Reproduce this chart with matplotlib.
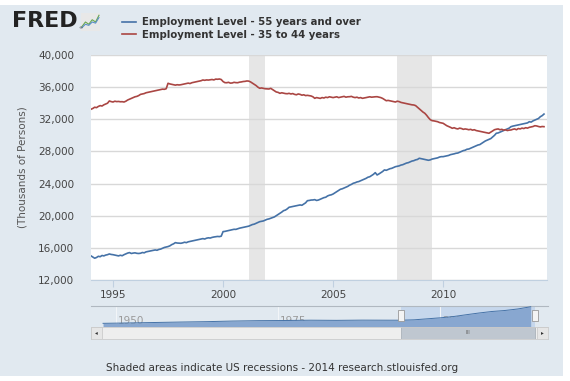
import numpy as np
import matplotlib.pyplot as plt
from matplotlib.patches import Rectangle
from matplotlib.ticker import FuncFormatter

# monthly values, thousands of persons, Jan 1994 .. Aug 2014
start_year = 1994
emp_55_over = [
    15000, 14850, 14710, 14800, 14950, 14900, 15050, 15000, 15100, 15150, 15240, 15180,  # 1994
    15150, 15100, 15050, 15000, 15080, 15020, 15150, 15250, 15350, 15410, 15300, 15350,  # 1995
    15380, 15320, 15300, 15330, 15420, 15380, 15500, 15550, 15600, 15650, 15700, 15740,  # 1996
    15700, 15800, 15850, 15950, 16050, 16100, 16160, 16250, 16400, 16500, 16650, 16600,  # 1997
    16580, 16570, 16620, 16700, 16650, 16750, 16800, 16850, 16900, 16950, 17000, 17050,  # 1998
    17100, 17150, 17100, 17200, 17250, 17220, 17300, 17350, 17380, 17420, 17400, 17450,  # 1999
    18020, 18050, 18100, 18150, 18200, 18250, 18310, 18300, 18380, 18450, 18500, 18550,  # 2000
    18600, 18640, 18700, 18800, 18900, 18950, 19050, 19150, 19260, 19300, 19350, 19450,  # 2001
    19550, 19600, 19680, 19750, 19850, 20000, 20150, 20300, 20450, 20630, 20700, 20850,  # 2002
    21050, 21100, 21150, 21200, 21250, 21300, 21340, 21300, 21450, 21600, 21870, 21900,  # 2003
    21950, 21960, 22000, 21900, 21950, 22050, 22150, 22250, 22300, 22460, 22550, 22600,  # 2004
    22700, 22850, 23000, 23150, 23290, 23350, 23450, 23550, 23650, 23800, 23900, 24040,  # 2005
    24100, 24200, 24250, 24350, 24450, 24550, 24650, 24790, 24850, 25000, 25150, 25360,  # 2006
    25070, 25200, 25350, 25500, 25700, 25650, 25750, 25850, 25900, 26000, 26100, 26150,  # 2007
    26200, 26300, 26350, 26450, 26550, 26600, 26700, 26800, 26850, 26950, 27000, 27150,  # 2008
    27100, 27050, 27000, 26950, 26900, 26950, 27050, 27100, 27150, 27200, 27300, 27350,  # 2009
    27350, 27400, 27450, 27500, 27600, 27650, 27700, 27770, 27800, 27900, 28000, 28100,  # 2010
    28150, 28270, 28300, 28400, 28500, 28600, 28700, 28800, 28850, 29000, 29150, 29300,  # 2011
    29400, 29510, 29600, 29800, 30000, 30260, 30300, 30400, 30500, 30600, 30700, 30800,  # 2012
    30900, 31080, 31150, 31200, 31250, 31300, 31350, 31400, 31450, 31500, 31550, 31700,  # 2013
    31650, 31800, 31900, 32000, 32100, 32320, 32450, 32650,                              # 2014
]
emp_35_44 = [
    33250, 33350, 33500, 33450, 33600, 33700, 33650, 33800, 33900, 34000, 34280, 34200,  # 1994
    34150, 34250, 34200, 34220, 34180, 34190, 34150, 34250, 34400, 34500, 34600, 34700,  # 1995
    34800, 34850, 34950, 35100, 35150, 35200, 35300, 35350, 35400, 35450, 35500, 35550,  # 1996
    35600, 35650, 35700, 35750, 35730, 35800, 36480, 36400, 36350, 36300, 36250, 36300,  # 1997
    36270, 36300, 36350, 36400, 36450, 36500, 36450, 36550, 36600, 36650, 36700, 36750,  # 1998
    36800, 36890, 36850, 36900, 36880, 36920, 36950, 36900, 37000, 36980, 37015, 36950,  # 1999
    36700, 36560, 36550, 36600, 36500, 36520, 36600, 36560, 36550, 36620, 36650, 36700,  # 2000
    36720, 36770, 36750, 36650, 36500, 36350, 36200, 36000, 35860, 35900, 35850, 35800,  # 2001
    35780, 35770, 35850, 35700, 35550, 35400, 35350, 35230, 35300, 35250, 35200, 35180,  # 2002
    35230, 35150, 35200, 35100, 35050, 35150, 35100, 35000, 35050, 34950, 34980, 34940,  # 2003
    34900, 34800, 34610, 34700, 34650, 34600, 34700, 34650, 34750, 34700, 34800, 34750,  # 2004
    34700, 34750, 34800, 34700, 34750, 34800, 34850, 34750, 34800, 34810, 34850, 34750,  # 2005
    34700, 34750, 34650, 34700, 34610, 34650, 34700, 34750, 34800, 34750, 34780, 34800,  # 2006
    34810, 34750, 34700, 34600, 34450, 34310, 34350, 34300, 34250, 34200, 34150, 34250,  # 2007
    34200, 34100, 34050, 34000, 33950, 33900, 33850, 33800, 33780, 33700, 33500, 33300,  # 2008
    33100, 32900, 32750, 32500, 32200, 31950, 31830, 31800, 31750, 31700, 31600, 31550,  # 2009
    31500, 31350, 31200, 31100, 31000, 30880, 30950, 30850, 30800, 30900, 30850, 30750,  # 2010
    30800, 30760, 30700, 30750, 30650, 30700, 30600, 30550, 30500, 30450, 30400, 30350,  # 2011
    30300, 30260, 30400, 30550, 30700, 30760, 30800, 30700, 30750, 30650, 30700, 30600,  # 2012
    30650, 30670, 30750, 30800, 30700, 30850, 30800, 30900, 30850, 30950, 30900, 31000,  # 2013
    31050, 31100, 31200, 31170, 31100, 31050, 31100, 31080,                              # 2014
]
labels = ['Employment Level - 55 years and over', 'Employment Level - 35 to 44 years']
recessions = [(2001 + 2 / 12, 2001 + 11 / 12), (2007 + 11 / 12, 2009 + 6 / 12)]
y_ticks = [12000, 16000, 20000, 24000, 28000, 32000, 36000, 40000]
x_ticks = [1995, 2000, 2005, 2010]

# navigator: yearly 55+ series over the full history
nav_years = [1948, 1952, 1956, 1960, 1964, 1968, 1972, 1976, 1980, 1984, 1988, 1992,
             1994, 1996, 1998, 2000, 2002, 2004, 2006, 2008, 2010, 2012, 2014]
nav_values = [10800, 11300, 11900, 12500, 13000, 13800, 14300, 14500, 14900, 14700, 15000, 14900,
              14900, 15400, 16700, 18000, 19600, 22000, 24300, 26300, 27600, 29600, 32500]
nav_ticks = [1950, 1975, 2000]

W, H = 570, 381
def fx(px):
    return px / W
def fy(py):
    return 1 - py / H

bg = '#e1e9f0'
blue = '#4572a7'
red = '#aa4643'

fig = plt.figure(figsize=(5.7, 3.81), dpi=100)
fig.patch.set_facecolor('white')
fig.add_artist(Rectangle((0, fy(376)), fx(563), fy(5) - fy(376), transform=fig.transFigure,
                         facecolor=bg, edgecolor='none', zorder=-10))

months = len(emp_55_over)
x = start_year + np.arange(months) / 12

ax = fig.add_axes([fx(91), fy(280), fx(547) - fx(91), fy(55) - fy(280)])
ax.set_facecolor('white')
for a, b in recessions:
    ax.axvspan(a, b, color='#e6e6e6', lw=0, zorder=0)
l1, = ax.plot(x, emp_55_over, color=blue, lw=1.2, zorder=3)
l2, = ax.plot(x, emp_35_44[:months], color=red, lw=1.2, zorder=3)
ax.set_xlim(1994.0, 2014.72)
ax.set_ylim(12000, 40000)
ax.set_yticks(y_ticks)
ax.yaxis.set_major_formatter(FuncFormatter(lambda v, p: f'{int(v):,}'))
ax.set_xticks(x_ticks)
ax.grid(axis='y', color='#d8d8d8', lw=1, zorder=1)
for s in ['left', 'right', 'top']:
    ax.spines[s].set_visible(False)
ax.spines['bottom'].set_color('#c0d0e0')
ax.tick_params(axis='y', length=0, pad=12, labelsize=7.5, labelcolor='#444444')
ax.tick_params(axis='x', length=5, color='#c0d0e0', pad=2, labelsize=7.5, labelcolor='#444444')
ax.set_ylabel('(Thousands of Persons)', fontsize=7.5, color='#555555', labelpad=8)

fig.legend([l1, l2], labels, loc='upper left', bbox_to_anchor=(fx(117), fy(12)),
           frameon=False, borderpad=0, handlelength=1.4, handletextpad=0.6,
           labelspacing=0.25, prop={'size': 7.3, 'weight': 'bold'}, labelcolor='#333333')

# FRED logo
fig.text(fx(12), fy(21), 'FRED', fontsize=16, fontweight='heavy', color='#222222', va='center')
fig.text(fx(78), fy(28), '®', fontsize=3, color='#222222', va='center')
icon = fig.add_axes([fx(81), fy(31), fx(19), fy(13) - fy(31)])
icon.plot([0, 1, 2, 3, 4, 5], [1, 3, 2, 4, 3, 6], color='#6aa84f', lw=0.8)
icon.plot([0, 1, 2, 3, 4, 5], [0.5, 2, 1.5, 3, 2.5, 5], color='#5b8fc7', lw=0.8)
icon.set_xlim(-0.3, 5.3)
icon.set_ylim(-1, 7)
icon.axis('off')
icon.add_patch(Rectangle((-0.3, -1), 5.6, 8, facecolor='#e8e8e8', edgecolor='none', zorder=0))

# navigator
nav = fig.add_axes([fx(91), fy(327), fx(548) - fx(91), fy(306) - fy(327)])
nav.set_facecolor(bg)
nav.set_xlim(1946.14, 2016.67)
nav.set_ylim(6000, 33500)
nav.axvspan(1994.0, 2014.72, color='#c6d7ec', lw=0, zorder=0)
for t in nav_ticks:
    nav.axvline(t, color='#f2f5f8', lw=0.8, zorder=0.5)
    nav.text(t + 0.3, 0.05, str(t), transform=nav.get_xaxis_transform(), fontsize=7.5,
             color='#9a9a9a', va='bottom', ha='left', zorder=1)
nav.fill_between(nav_years, nav_values, 6000, color='#88a7d0', lw=0, zorder=2)
nav.plot(nav_years, nav_values, color=blue, lw=0.7, zorder=3)
for hx in (1994.0, 2014.72):
    nav.add_patch(Rectangle((hx - 0.45, 0.3), 0.9, 0.5, transform=nav.get_xaxis_transform(),
                            facecolor='#f4f4f4', edgecolor='#999999', lw=0.6, zorder=5))
nav.set_xticks([])
nav.set_yticks([])
for s in ['left', 'right', 'bottom']:
    nav.spines[s].set_visible(False)
nav.spines['top'].set_color('#b0b8c0')

# scrollbar
sb = fig.add_axes([fx(91), fy(339), fx(548) - fx(91), fy(327) - fy(339)])
sb.set_xlim(1946.14, 2016.67)
sb.set_ylim(0, 1)
sb.set_facecolor('#eeeeee')
sb.add_patch(Rectangle((1994.0, 0), 2014.72 - 1994.0, 1, facecolor='#bfc7d0',
                       edgecolor='#aab2ba', lw=0.6))
sb.text((1994.0 + 2014.72) / 2, 0.5, 'III', fontsize=4, color='#666666', ha='center', va='center')
btn = 11 * (2016.67 - 1946.14) / 457
sb.add_patch(Rectangle((1946.14, 0), btn, 1, facecolor='#e6e6e6', edgecolor='#cccccc', lw=0.6))
sb.add_patch(Rectangle((2016.67 - btn, 0), btn, 1, facecolor='#e6e6e6', edgecolor='#cccccc', lw=0.6))
sb.text(1946.14 + btn / 2, 0.5, '◂', fontsize=4, color='#333333', ha='center', va='center')
sb.text(2016.67 - btn / 2, 0.5, '▸', fontsize=4, color='#333333', ha='center', va='center')
sb.set_xticks([])
sb.set_yticks([])
for s in sb.spines.values():
    s.set_color('#cccccc')
    s.set_linewidth(0.6)

fig.text(fx(106), fy(368), 'Shaded areas indicate US recessions - 2014 research.stlouisfed.org',
         fontsize=7.5, color='#333333', va='center')

fig.savefig('out.png', dpi=100, facecolor=fig.get_facecolor())
